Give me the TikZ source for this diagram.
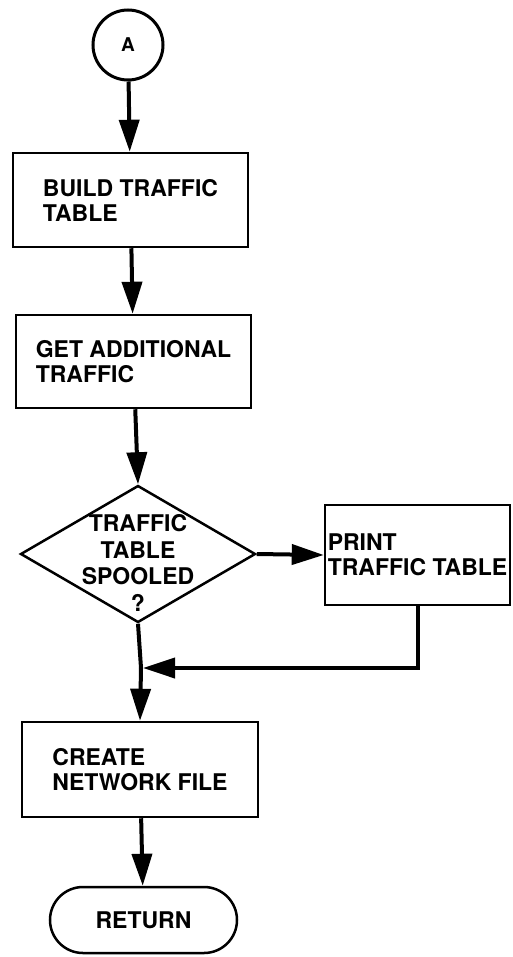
\documentclass[tikz,border=0pt]{standalone}
\usepackage{fontspec}
\setmainfont{TeX Gyre Heros}
\usetikzlibrary{arrows.meta,shapes.geometric}
\begin{document}
\begin{tikzpicture}[x=1pt,y=-1pt,
  every node/.style={font=\bfseries\fontsize{23}{25}\selectfont},
  stepbox/.style={draw, line width=2.5pt, rectangle, align=left, inner sep=0pt},
  decision/.style={draw, line width=2.5pt, diamond, inner sep=0pt},
  terminal/.style={draw, line width=2.5pt, rectangle, rounded corners=33pt, inner sep=0pt},
  connector/.style={draw, line width=3pt, circle, inner sep=0pt},
  flow/.style={line width=4pt},
  arr/.style={flow, -{Triangle[length=32pt,width=20pt]}}]
% page frame
\useasboundingbox (0,0) rectangle (512,957);

% nodes
\node[connector, minimum size=70pt, font=\bfseries\fontsize{19}{20}\selectfont] (A) at (128,45) {A};
\node[stepbox, minimum width=235pt, minimum height=94pt] (build) at (130.5,200) {BUILD TRAFFIC\\TABLE};
\node[stepbox, minimum width=235pt, minimum height=93pt] (get) at (133.5,361.5) {GET ADDITIONAL\\TRAFFIC};
\node[decision, minimum width=235pt, minimum height=137pt] (dec) at (138,554) {};
\node[align=center, inner sep=0pt, font=\bfseries\fontsize{23}{26.5}\selectfont] (dectext) at (138,563) {TRAFFIC\\TABLE\\SPOOLED\\?};
\node[stepbox, minimum width=185pt, minimum height=100pt] (print) at (417.5,555) {PRINT\\TRAFFIC TABLE};
\node[stepbox, minimum width=236pt, minimum height=95pt] (create) at (140,769.5) {CREATE\\NETWORK FILE};
\node[terminal, minimum width=187pt, minimum height=66pt] (ret) at (143.5,920) {RETURN};
\coordinate (j) at (141,668);

% connectors
\draw[arr] (A) -- (build);
\draw[arr] (build) -- (get);
\draw[arr] (get) -- (dec.north);
\draw[arr] (dec.east) -- (print.west);
\draw[flow] (dec.south) -- (j);
\draw[arr, shorten >=2pt] (print.south) |- (j);
\draw[arr] (j) -- (create.north);
\draw[arr] (create) -- (ret);
\end{tikzpicture}
\end{document}
